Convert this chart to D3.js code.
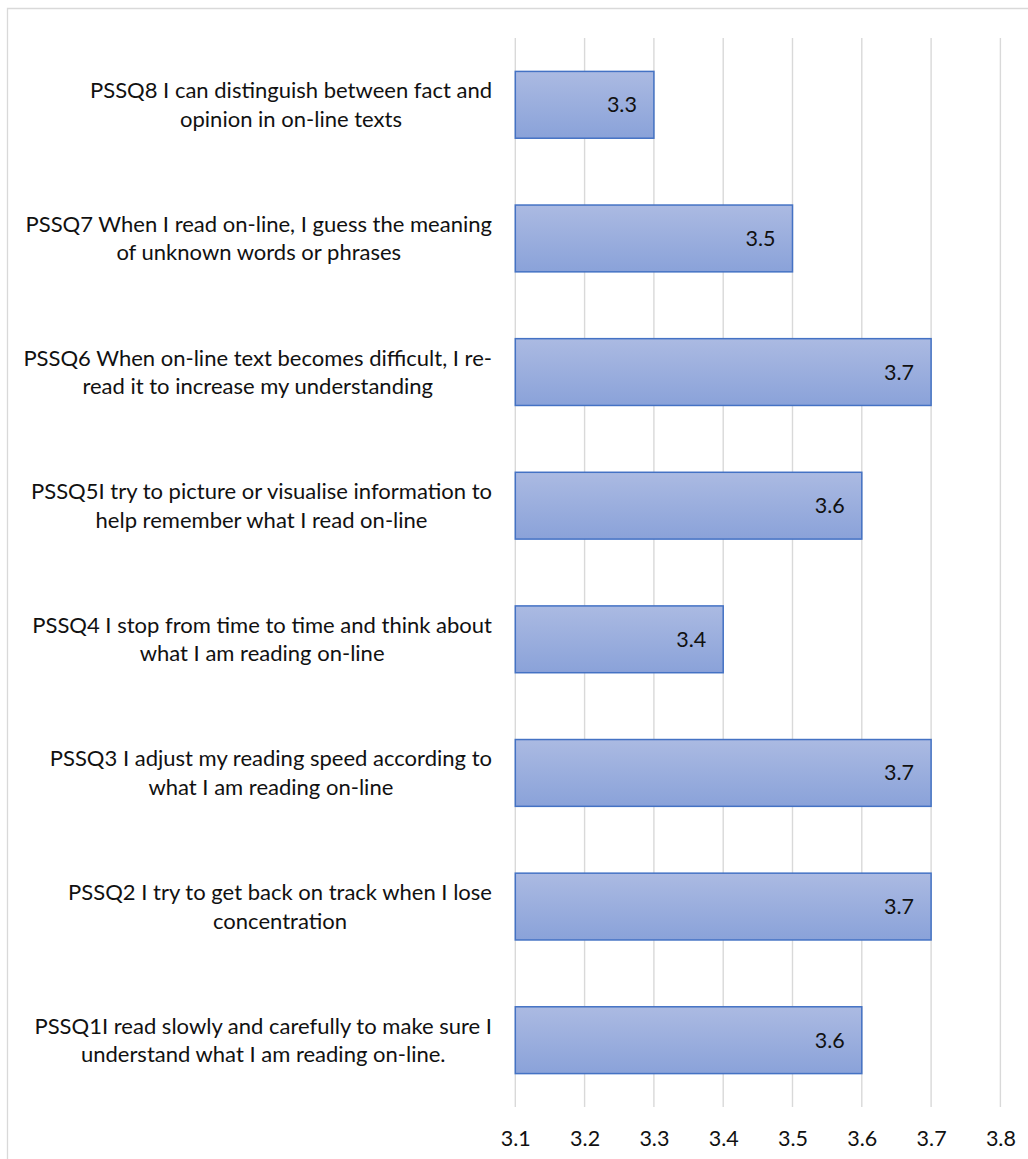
<!DOCTYPE html>
<html>
<head>
<meta charset="utf-8">
<script src="https://cdn.jsdelivr.net/npm/d3@7"></script>
<style>
  html, body { margin: 0; padding: 0; background: #ffffff; overflow: hidden; }
  svg { display: block; }
</style>
</head>
<body>
<svg id="chart" width="1028" height="1159"></svg>
<script>
// ---- data (top to bottom as drawn) ----
const categories = ["PSSQ8", "PSSQ7", "PSSQ6", "PSSQ5", "PSSQ4", "PSSQ3", "PSSQ2", "PSSQ1"];
const labelLines = [
  ["PSSQ8 I can distinguish between fact and", "opinion in on-line texts"],
  ["PSSQ7 When I read on-line, I guess the meaning", "of unknown words or phrases"],
  ["PSSQ6 When on-line text becomes difficult, I re-", "read it to increase my understanding"],
  ["PSSQ5I try to picture or visualise information to", "help remember what I read on-line"],
  ["PSSQ4 I stop from time to time and think about", "what I am reading on-line"],
  ["PSSQ3 I adjust my reading speed according to", "what I am reading on-line"],
  ["PSSQ2 I try to get back on track when I lose", "concentration"],
  ["PSSQ1I read slowly and carefully to make sure I", "understand what I am reading on-line."]
];
const values = [3.3, 3.5, 3.7, 3.6, 3.4, 3.7, 3.7, 3.6];
const tickValues = [3.1, 3.2, 3.3, 3.4, 3.5, 3.6, 3.7, 3.8];
const tickLabels = ["3.1", "3.2", "3.3", "3.4", "3.5", "3.6", "3.7", "3.8"];

const FONT = "Lato, 'Open Sans', 'Noto Sans', sans-serif";
const svg = d3.select("#chart");

// chart frame (cropped at right and bottom)
svg.append("path")
  .attr("d", "M7.5,1159 L7.5,8.5 L1028,8.5")
  .attr("fill", "none")
  .attr("stroke", "#d9d9d9")
  .attr("stroke-width", 1.3);

const plotTop = 38, plotBottom = 1107;
const x = d3.scaleLinear().domain([3.1, 3.8]).range([515.3, 1000.4]);
const y = d3.scaleBand().domain(categories).range([plotTop, plotBottom])
  .paddingInner(0.5).paddingOuter(0.25);

// gradient
const defs = svg.append("defs");
const grad = defs.append("linearGradient").attr("id", "barGrad")
  .attr("x1", 0).attr("y1", 0).attr("x2", 0).attr("y2", 1);
grad.append("stop").attr("offset", "0%").attr("stop-color", "#abbae2");
grad.append("stop").attr("offset", "100%").attr("stop-color", "#8aa2d9");

// gridlines
svg.append("g").selectAll("line").data(tickValues).join("line")
  .attr("x1", d => x(d)).attr("x2", d => x(d))
  .attr("y1", plotTop).attr("y2", plotBottom)
  .attr("stroke", "#d9d9d9").attr("stroke-width", 1.4);

// bars
svg.append("g").selectAll("rect").data(categories).join("rect")
  .attr("x", x(3.1))
  .attr("y", d => y(d))
  .attr("width", (d, i) => x(values[i]) - x(3.1))
  .attr("height", y.bandwidth())
  .attr("fill", "url(#barGrad)")
  .attr("stroke", "#4472c4")
  .attr("stroke-width", 1.5);

// fit font size to reference text widths
const probe = svg.append("text").attr("font-family", FONT).attr("font-size", 20)
  .text("PSSQ7 When I read on-line, I guess the meaning");
const catSize = 20 * 467 / probe.node().getComputedTextLength();
probe.remove();
const numSize = 21.5;

// category labels
const lineGap = 28.5;
const catG = svg.append("g").attr("font-family", FONT).attr("font-size", catSize).attr("fill", "#111");
categories.forEach((c, i) => {
  const cy = y(c) + y.bandwidth() / 2;
  const lines = labelLines[i];
  const g = catG.append("g");
  const texts = lines.map((t, k) => g.append("text")
    .attr("y", cy + (k - (lines.length - 1) / 2) * lineGap)
    .attr("dy", "0.35em")
    .attr("text-anchor", "middle")
    .text(t));
  const maxW = d3.max(texts, t => t.node().getComputedTextLength());
  texts.forEach(t => t.attr("x", 492 - maxW / 2));
});

// value labels
svg.append("g").attr("font-family", FONT).attr("font-size", numSize).attr("fill", "#111")
  .selectAll("text").data(categories).join("text")
  .attr("x", (d, i) => x(values[i]) - 17)
  .attr("y", d => y(d) + y.bandwidth() / 2)
  .attr("dy", "0.35em")
  .attr("text-anchor", "end")
  .text((d, i) => values[i].toFixed(1));

// x axis tick labels
const axis = d3.axisBottom(x).tickValues(tickValues).tickSize(0).tickPadding(0)
  .tickFormat((d, i) => tickLabels[i]);
const ax = svg.append("g").attr("transform", `translate(0,${plotBottom})`).call(axis);
ax.select(".domain").remove();
ax.selectAll("text")
  .attr("font-family", FONT).attr("font-size", numSize).attr("fill", "#111")
  .attr("y", 31).attr("dy", "0.35em");
</script>
</body>
</html>
